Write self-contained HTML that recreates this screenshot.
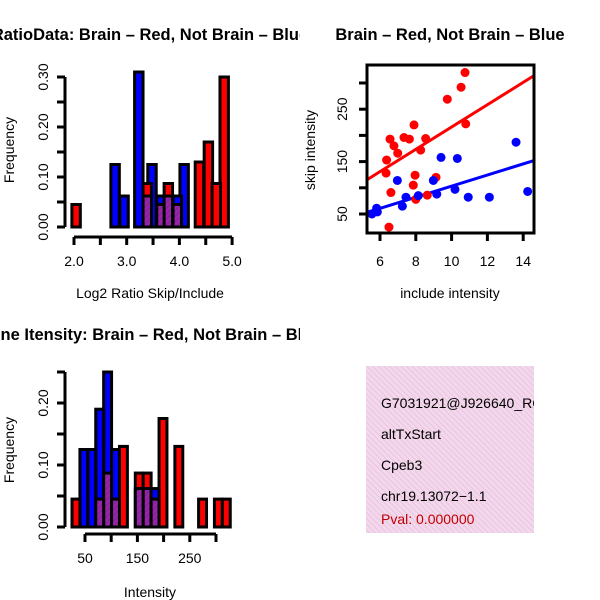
<!DOCTYPE html>
<html><head><meta charset="utf-8"><style>
html,body{margin:0;padding:0;background:#fff}
svg{display:block;font-family:"Liberation Sans",sans-serif}
</style></head><body>
<svg id="root" width="600" height="600" viewBox="0 0 600 600">
<defs>
<pattern id="hatch" width="4" height="4" patternUnits="userSpaceOnUse" patternTransform="rotate(45)">
<rect width="4" height="4" fill="#a020b0"/><rect width="1.5" height="4" fill="#7a2a90"/></pattern>
<pattern id="pink" width="4" height="4" patternUnits="userSpaceOnUse" patternTransform="rotate(-45)">
<rect width="4" height="4" fill="#f8d4f4"/><rect width="1" height="4" fill="#dccfc8"/></pattern>
<clipPath id="clipL"><rect x="0" y="0" width="300" height="600"/></clipPath>
<clipPath id="clipInfo"><rect x="366" y="366" width="168" height="167"/></clipPath>
</defs>
<g id="g1"></g>
<g id="g2"></g>
<g id="g3"></g>
<g clip-path="url(#clipInfo)">
<rect x="366" y="366" width="168" height="167" fill="url(#pink)"/>
<text x="381" y="408" font-size="14">G7031921@J926640_RC</text>
<text x="381" y="439" font-size="14">altTxStart</text>
<text x="381" y="470" font-size="14">Cpeb3</text>
<text x="381" y="501" font-size="14">chr19.13072−1.1</text>
<text x="381" y="524" font-size="14" fill="#c00000">Pval: 0.000000</text>
</g>
</svg>
<script>
// ---- Histogram 1: log2 ratio ----
const h1RedLeft = [1.96, 3.31, 3.57, 3.71, 3.88, 4.30, 4.47, 4.62, 4.77];
const h1RedFreq = [0.045, 0.087, 0.045, 0.087, 0.045, 0.13, 0.17, 0.087, 0.30];
const h1BlueLeft = [2.70, 2.87, 3.15, 3.31, 3.40, 3.57, 3.71, 3.88, 4.01];
const h1BlueFreq = [0.125, 0.062, 0.31, 0.062, 0.125, 0.062, 0.062, 0.062, 0.125];
const h1Width = 0.16;
const h1XTicks = [2.0, 2.5, 3.0, 3.5, 4.0, 4.5, 5.0];
const h1XLabels = ["2.0", "3.0", "4.0", "5.0"];
const h1YTicks = [0, 0.05, 0.10, 0.15, 0.20, 0.25, 0.30];
const h1YLabels = ["0.00", "0.10", "0.20", "0.30"];
// ---- Histogram 2: intensity ----
const h2Start = 25.2;
const h2Width = 15.1;
const h2RedFreq = [0.045,0,0,0.045,0.087,0.045,0.13,0,0.087,0.087,0.045,0.175,0,0.13,0,0,0.045,0,0.045,0.045];
const h2BlueFreq = [0,0.125,0.125,0.19,0.25,0.125,0,0,0.062,0.062,0.062,0,0,0,0,0,0,0,0,0];
const h2XTicks = [50, 100, 150, 200, 250, 300];
const h2XLabels = ["50", "150", "250"];
const h2YTicks = [0, 0.05, 0.10, 0.15, 0.20, 0.25];
const h2YLabels = ["0.00", "0.10", "0.20"];
// ---- Scatter ----
const redX = [10.75,10.53,9.76,10.79,7.90,6.56,7.34,7.64,8.55,6.78,6.99,8.27,6.37,6.34,7.96,9.13,7.86,6.61,8.64,8.0,6.5];
const redY = [320,292,269,222,220,193,196,193,194,180,166,172,153,128,124,120,105,91,86,78,25];
const blueX = [5.55,5.81,5.85,6.97,7.25,7.45,8.14,8.98,9.17,9.41,10.32,10.19,10.93,12.11,13.6,14.25];
const blueY = [50,61,54,114,65,82,85,114,88,158,156,97,82,82,187,93];
const redFit = [3, 21.3];
const blueFit = [-2.8, 10.6];
const scXTicks = [6, 8, 10, 12, 14];
const scYTicks = [50, 100, 150, 200, 250, 300];
const scYLabels = ["50", "150", "250"];

const NS = "http://www.w3.org/2000/svg";
function mk(parent, tag, attrs, text) {
  const e = document.createElementNS(NS, tag);
  for (const k in attrs) e.setAttribute(k, attrs[k]);
  if (text !== undefined) e.textContent = text;
  parent.appendChild(e);
  return e;
}

function drawHist(g, bars, xs, ys) {
  bars.sort((a, b) => b.f - a.f);
  for (const b of bars) {
    if (b.f <= 0) continue;
    const x0 = xs(b.l), x1 = xs(b.l + b.w);
    const r = mk(g, "rect", {x: x0, y: ys(b.f), width: x1 - x0, height: ys(0) - ys(b.f), fill: b.c, stroke: "#000", "stroke-width": 3});
    
    
  }
}

function axes(g, o) {
  const ya = mk(g, "line", {x1: o.yx, x2: o.yx, y1: o.ys(o.yT[0]), y2: o.ys(o.yT[o.yT.length-1]), stroke: "#000", "stroke-width": 3});
  
  
  for (const t of o.yT) mk(g, "line", {x1: o.yx - 8, x2: o.yx, y1: o.ys(t), y2: o.ys(t), stroke: "#000", "stroke-width": 3});
  for (const lab of o.yL) {
    const y = o.ys(parseFloat(lab));
    const t = mk(g, "text", {x: 0, y: 0, "font-size": 14, "text-anchor": "middle", transform: `translate(${o.yx - 17},${y}) rotate(-90)`}, lab);
    
    
  }
  const xa = mk(g, "line", {x1: o.xs(o.xT[0]), x2: o.xs(o.xT[o.xT.length-1]), y1: o.xy, y2: o.xy, stroke: "#000", "stroke-width": 3});
  
  
  for (const t of o.xT) mk(g, "line", {x1: o.xs(t), x2: o.xs(t), y1: o.xy, y2: o.xy + 8, stroke: "#000", "stroke-width": 3});
  for (const lab of o.xL) {
    const t = mk(g, "text", {x: o.xs(parseFloat(lab)), y: o.xy + 29, "font-size": 14, "text-anchor": "middle"}, lab);
    
    
  }
}

// Plot 1
(function(){
  const g = document.getElementById("g1");
  g.setAttribute("clip-path", "url(#clipL)");
  const xs = v => 74 + (v - 2) * 52.7;
  const ys = v => 227 - v * 500;
  const bars = [];
  h1RedLeft.forEach((l, i) => bars.push({l, f: h1RedFreq[i], c: "#ff0000", w: h1Width}));
  h1BlueLeft.forEach((l, i) => bars.push({l, f: h1BlueFreq[i], c: "#0000ff", w: h1Width}));
  const ovs = [];
  h1RedLeft.forEach((l, i) => {
    h1BlueLeft.forEach((bl, j) => {
      if (Math.abs(bl - l) < 0.02) ovs.push({l, f: Math.min(h1RedFreq[i], h1BlueFreq[j]), c: "url(#hatch)", w: h1Width});
    });
  });
  drawHist(g, bars, xs, ys);
  for (const b of ovs) {
    const r = mk(g, "rect", {x: xs(b.l), y: ys(b.f), width: xs(b.l + b.w) - xs(b.l), height: ys(0) - ys(b.f), fill: b.c, stroke: "#000", "stroke-width": 3});
    
    
  }
  axes(g, {xs, ys, yx: 65, xy: 237, xT: h1XTicks, xL: h1XLabels, yT: h1YTicks, yL: h1YLabels});
  const t = mk(g, "text", {x: 150, y: 40, "font-size": 16.5, "font-weight": "bold", "text-anchor": "middle"}, "RatioData: Brain – Red, Not Brain – Blue");
  
  
  const xl = mk(g, "text", {x: 150, y: 298, "font-size": 14, "text-anchor": "middle"}, "Log2 Ratio Skip/Include");
  
  
  const yl = mk(g, "text", {x: 0, y: 0, "font-size": 14, "text-anchor": "middle", transform: "translate(14,150) rotate(-90)"}, "Frequency");
  
  
})();

// Plot 3
(function(){
  const g = document.getElementById("g3");
  g.setAttribute("clip-path", "url(#clipL)");
  const xs = v => 85 + (v - 50) * 26.2 / 50;
  const ys = v => 527 - v * 620;
  const bars = [];
  h2RedFreq.forEach((f, k) => {
    const b = h2BlueFreq[k];
    const l = h2Start + k * h2Width;
    if (f > 0 && b > 0) {
      bars.push({l, f: Math.max(f, b), c: f > b ? "#ff0000" : "#0000ff", w: h2Width});
      bars.push({l, f: Math.min(f, b), c: "url(#hatch)", w: h2Width});
    } else if (f > 0) bars.push({l, f, c: "#ff0000", w: h2Width});
    else if (b > 0) bars.push({l, f: b, c: "#0000ff", w: h2Width});
  });
  drawHist(g, bars, xs, ys);
  axes(g, {xs, ys, yx: 65, xy: 534, xT: h2XTicks, xL: h2XLabels, yT: h2YTicks, yL: h2YLabels});
  const t = mk(g, "text", {x: 150, y: 340, "font-size": 16.5, "font-weight": "bold", "text-anchor": "middle"}, "Gene Itensity: Brain – Red, Not Brain – Blue");
  
  
  const xl = mk(g, "text", {x: 150, y: 597, "font-size": 14, "text-anchor": "middle"}, "Intensity");
  
  
  const yl = mk(g, "text", {x: 0, y: 0, "font-size": 14, "text-anchor": "middle", transform: "translate(14,450) rotate(-90)"}, "Frequency");
  
  
})();

// Scatter
(function(){
  const g = document.getElementById("g2");
  const xs = v => 380 + (v - 6) * 17.9;
  const ys = v => 214 - (v - 50) * 0.524;
  const clip = mk(g, "clipPath", {id: "clipS"});
  mk(clip, "rect", {x: 367, y: 65, width: 167, height: 168});
  const inner = mk(g, "g", {"clip-path": "url(#clipS)"});
  const fits = [[redFit, "#ff0000"], [blueFit, "#0000ff"]];
  for (const [f, c] of fits) {
    const ln = mk(inner, "line", {x1: xs(5), y1: ys(f[0] + f[1] * 5), x2: xs(15), y2: ys(f[0] + f[1] * 15), stroke: c, "stroke-width": 3});
    
    
  }
  redX.forEach((x, i) => {
    const p = mk(inner, "circle", {cx: xs(x), cy: ys(redY[i]), r: 4.5, fill: "#ff0000"});
    
    
  });
  blueX.forEach((x, i) => {
    const p = mk(inner, "circle", {cx: xs(x), cy: ys(blueY[i]), r: 4.5, fill: "#0000ff"});
    
    
  });
  const box = mk(g, "rect", {x: 367, y: 65, width: 167, height: 168, fill: "none", stroke: "#000", "stroke-width": 3});
  
  
  for (const t of scXTicks) {
    mk(g, "line", {x1: xs(t), x2: xs(t), y1: 233, y2: 241, stroke: "#000", "stroke-width": 3});
    const tl = mk(g, "text", {x: xs(t), y: 266, "font-size": 14, "text-anchor": "middle"}, String(t));
    
    
  }
  for (const t of scYTicks) mk(g, "line", {x1: 359, x2: 367, y1: ys(t), y2: ys(t), stroke: "#000", "stroke-width": 3});
  for (const lab of scYLabels) {
    const tl = mk(g, "text", {x: 0, y: 0, "font-size": 14, "text-anchor": "middle", transform: `translate(347,${ys(+lab)}) rotate(-90)`}, lab);
    
    
  }
  const t = mk(g, "text", {x: 450, y: 40, "font-size": 16.5, "font-weight": "bold", "text-anchor": "middle"}, "Brain – Red, Not Brain – Blue");
  
  
  const xl = mk(g, "text", {x: 450, y: 298, "font-size": 14, "text-anchor": "middle"}, "include intensity");
  
  
  const yl = mk(g, "text", {x: 0, y: 0, "font-size": 14, "text-anchor": "middle", transform: "translate(315,150) rotate(-90)"}, "skip intensity");
  
  
})();
</script>
</body></html>
